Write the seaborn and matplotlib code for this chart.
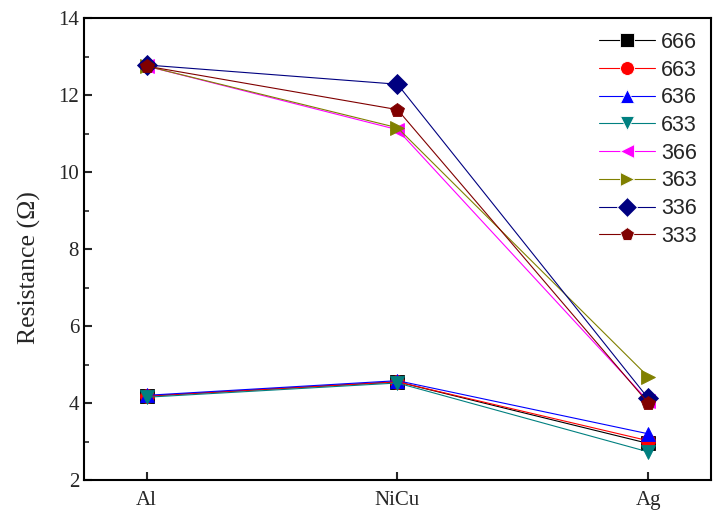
import matplotlib
matplotlib.use("Agg")
import matplotlib.pyplot as plt
import seaborn as sns
import pandas as pd
from matplotlib.ticker import MultipleLocator

categories = ["Al", "NiCu", "Ag"]
series_names = ["666", "663", "636", "633", "366", "363", "336", "333"]
values = {
    "666": [4.18, 4.55, 2.95],
    "663": [4.18, 4.55, 3.02],
    "636": [4.20, 4.58, 3.20],
    "633": [4.15, 4.52, 2.73],
    "366": [12.75, 11.10, 4.05],
    "363": [12.75, 11.15, 4.68],
    "336": [12.78, 12.28, 4.12],
    "333": [12.75, 11.62, 4.00],
}
colors = ["#000000", "#FF0000", "#0000FF", "#008080", "#FF00FF", "#808000", "#000080", "#800000"]
markers = ["s", "o", "^", "v", "<", ">", "D", "p"]

rows = []
for s in series_names:
    for c, v in zip(categories, values[s]):
        rows.append({"Electrode": c, "Resistance": v, "Sample": s})
df = pd.DataFrame(rows)

sns.set_style("white")
fig = plt.figure(figsize=(7.27, 5.25), dpi=100)
ax = fig.add_axes([0.1155, 0.0857, 0.8625, 0.88])

sns.lineplot(data=df, x="Electrode", y="Resistance", hue="Sample", style="Sample",
             hue_order=series_names, style_order=series_names,
             palette=colors, markers=markers, dashes=False,
             markersize=10, linewidth=0.8, markeredgewidth=0.6, ax=ax, sort=False)

for ln, c in zip(ax.lines, colors):
    ln.set_markeredgecolor(c)

ax.set_xlim(-0.25, 2.25)
ax.set_ylim(2, 14)
ax.yaxis.set_major_locator(MultipleLocator(2))
ax.yaxis.set_minor_locator(MultipleLocator(1))
ax.tick_params(axis="both", which="major", direction="in", length=6, width=1.5,
               labelsize=15, left=True, bottom=True, top=False, right=False)
ax.tick_params(axis="y", which="minor", direction="in", length=3.5, width=1.2, left=True)
for lab in ax.get_xticklabels() + ax.get_yticklabels():
    lab.set_fontfamily("Liberation Serif")
ax.tick_params(axis="x", pad=8)
for sp in ax.spines.values():
    sp.set_linewidth(1.5)
    sp.set_color("black")

ax.set_xlabel("")
ax.set_ylabel("Resistance (\u03a9)", fontsize=18.5, family="Liberation Serif")
ax.yaxis.set_label_coords(-0.068, 0.46)

leg = ax.legend(loc="upper right", frameon=False, prop={"family": "Liberation Sans", "size": 15.5},
                handlelength=2.6, labelspacing=0.31, handletextpad=0.3,
                borderaxespad=0.25, markerscale=1.0)
for h in leg.legend_handles:
    h.set_markersize(10)

fig.savefig("out.png", dpi=100)
